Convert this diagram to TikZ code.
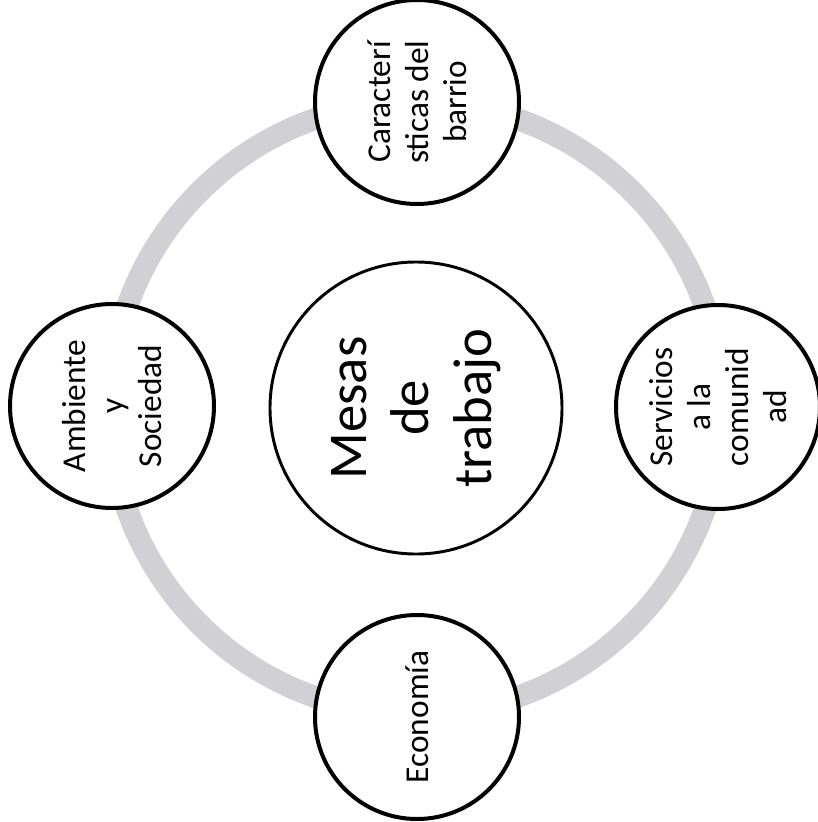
\documentclass[tikz,border=0pt]{standalone}
\usepackage{fontspec}
\setmainfont{Carlito}
\definecolor{ringgray}{RGB}{208,208,213}
\begin{document}
\begin{tikzpicture}[x=0.75pt,y=-0.75pt,
  mesa/.style={circle,draw=black,line width=3pt,fill=white,minimum size=153pt,inner sep=0pt,rotate=90,align=center,font=\fontsize{25}{28.5}\selectfont},
  centro/.style={circle,draw=black,line width=2.2pt,fill=white,minimum size=219pt,inner sep=0pt,rotate=90,align=center,font=\fontsize{41}{47}\selectfont}]
  \useasboundingbox (0,0) rectangle (818,822);
  \coordinate (o) at (416,408);
  \draw[ringgray,line width=16.5pt] (o) circle[radius=229.5pt];
  \node[centro] (c) at (o) {Mesas\\de\\trabajo};
  \node[mesa] (1) at (417,102) {Caracterí\\sticas del\\barrio};
  \node[mesa] (2) at (718,407) {Servicios\\a la\\comunid\\ad};
  \node[mesa] (3) at (417,717) {Economía};
  \node[mesa] (4) at (112,406) {Ambiente\\y\\Sociedad};
\end{tikzpicture}
\end{document}
